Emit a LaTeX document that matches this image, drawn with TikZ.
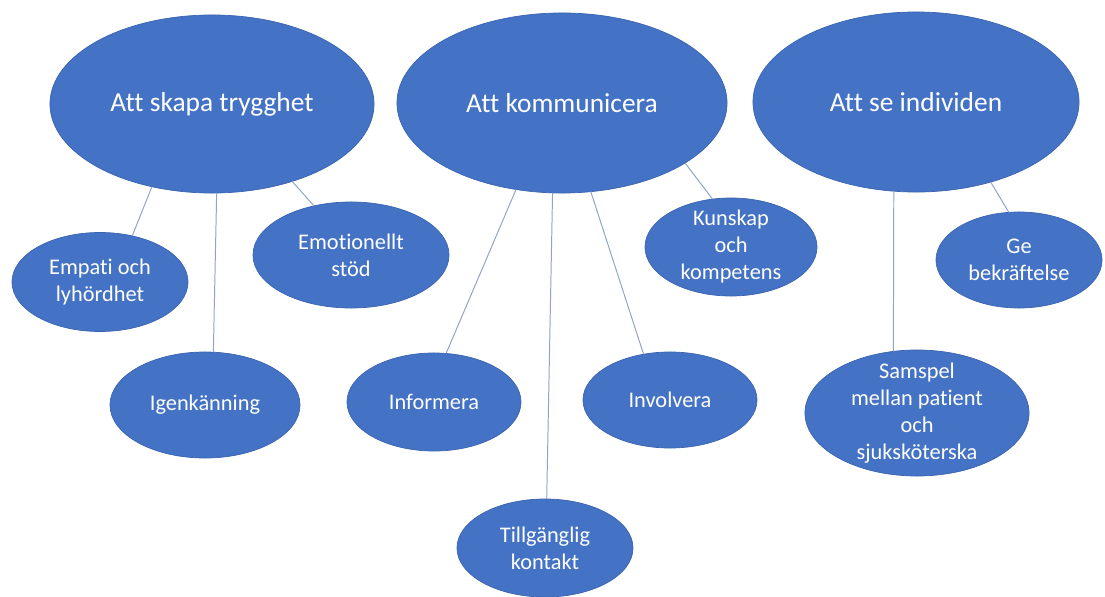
\documentclass[tikz,border=0pt]{standalone}
\usepackage{fontspec}
\setmainfont{Carlito}[Ligatures={NoCommon}]
\usetikzlibrary{shapes.geometric}
\definecolor{ovalBlue}{HTML}{4472C4}
\definecolor{ovalEdge}{HTML}{3B64B0}
\definecolor{linkBlue}{HTML}{8FA3CC}

\begin{document}
\begin{tikzpicture}[x=0.025cm, y=-0.025cm,
    oval/.style={ellipse, fill=ovalBlue, draw=ovalEdge, line width=0.5pt,
                 inner sep=0pt, outer sep=0pt},
    big/.style={oval, text=white, font=\fontsize{19.5}{23}\selectfont},
    lbl/.style={text=white, align=center, inner sep=0pt,
                font=\fontsize{15.9}{19.2}\selectfont},
    link/.style={draw=linkBlue, line width=0.7pt}]
    \useasboundingbox (0,0) rectangle (1105,597);
    % main themes
    \node[big, minimum width=8.1cm, minimum height=4.45cm] (trygg) at (212,104) {Att skapa trygghet};
    \node[big, minimum width=8.25cm, minimum height=4.5cm] (komm) at (562,103) {Att kommunicera};
    \node[big, minimum width=8.15cm, minimum height=4.5cm] (indiv) at (916,102) {Att se individen};
    % sub themes
    \node[oval, minimum width=4.4cm, minimum height=2.475cm,
          label={[lbl]center:{Empati och\\lyhördhet}}] (empati) at (100,282) {};
    \node[oval, minimum width=4.75cm, minimum height=2.65cm,
          label={[lbl]center:{Igenkänning}}] (igenk) at (205,405) {};
    \node[oval, minimum width=4.9cm, minimum height=2.65cm,
          label={[lbl]center:{Emotionellt\\stöd}}] (emot) at (351,255) {};
    \node[oval, minimum width=4.35cm, minimum height=2.45cm,
          label={[lbl]center:{Informera}}] (inform) at (434,402) {};
    \node[oval, minimum width=4.4cm, minimum height=2.45cm,
          label={[lbl]center:{Tillgänglig\\kontakt}}] (tillg) at (545,548) {};
    \node[oval, minimum width=4.35cm, minimum height=2.4cm,
          label={[lbl]center:{Involvera}}] (involv) at (670,400) {};
    \node[oval, minimum width=4.3cm, minimum height=2.45cm,
          label={[lbl]center:{Kunskap\\och\\kompetens}}] (kunsk) at (731,247) {};
    \node[oval, minimum width=4.15cm, minimum height=2.4cm,
          label={[lbl]center:{Ge\\bekräftelse}}] (gebekr) at (1019,260) {};
    \node[oval, minimum width=5.6cm, minimum height=3.15cm,
          label={[lbl]center:{Samspel\\mellan patient\\och\\sjuksköterska}}] (samspel) at (917,413) {};
    % connectors
    \draw[link] (trygg.234) -- (empati.55);
    \draw[link] (trygg.273) -- (igenk.81);
    \draw[link] (trygg.316) -- (emot.127);
    \draw[link] (komm.242) -- (inform.76);
    \draw[link] (komm.264) -- (tillg.88);
    \draw[link] (komm.288) -- (involv.120);
    \draw[link] (komm.334) -- (kunsk.111);
    \draw[link] (indiv.256) -- (samspel.111);
    \draw[link] (indiv.313) -- (gebekr.102);
\end{tikzpicture}
\end{document}
